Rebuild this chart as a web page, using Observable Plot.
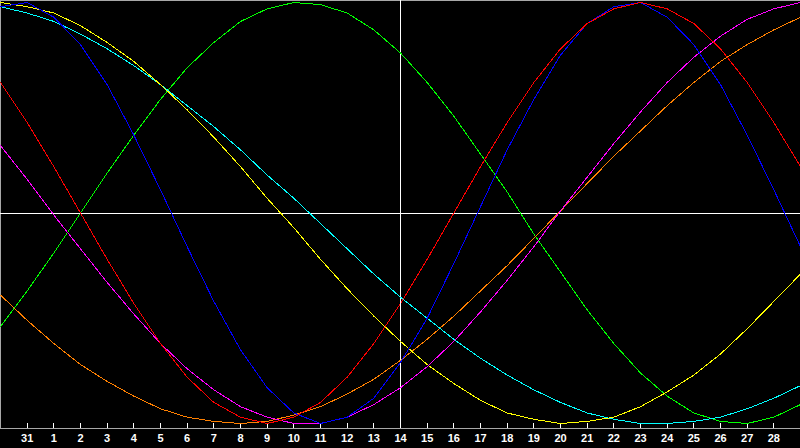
<!DOCTYPE html>
<html>
<head>
<meta charset="utf-8">
<script src="https://cdn.jsdelivr.net/npm/d3@7"></script>
<script src="https://cdn.jsdelivr.net/npm/@observablehq/plot@0.6"></script>
<style>
  html, body { margin: 0; padding: 0; background: #000; }
  #chart svg { display: block; }
</style>
</head>
<body>
<div id="chart"></div>
<script>
// day index across the chart (0 = left edge, 30 = right edge)
const dayIndex = [0,1,2,3,4,5,6,7,8,9,10,11,12,13,14,15,16,17,18,19,20,21,22,23,24,25,26,27,28,29,30];
// tick labels at day index 1..29
const tickIndex = [1,2,3,4,5,6,7,8,9,10,11,12,13,14,15,16,17,18,19,20,21,22,23,24,25,26,27,28,29];
const tickLabels = ["31","1","2","3","4","5","6","7","8","9","10","11","12","13","14","15","16","17","18","19","20","21","22","23","24","25","26","27","28"];

// series values in percent (-100..100), one per day
const physical     = [98,100,93,80,61,37,11,-16,-42,-65,-83,-95,-100,-97,-88,-71,-50,-24,3,30,54,75,90,98,100,93,80,61,37,11,-16];
const emotional    = [62,43,22,0,-22,-43,-62,-78,-90,-97,-100,-97,-90,-78,-62,-43,-22,0,22,43,62,78,90,97,100,97,90,78,62,43,22];
const intellectual = [-54,-37,-19,0,19,37,54,69,81,91,97,100,99,95,87,76,62,46,28,10,-10,-28,-46,-62,-76,-87,-95,-99,-100,-97,-91];
const intuitive    = [32,16,-1,-17,-33,-48,-62,-74,-84,-92,-97,-100,-100,-97,-91,-83,-73,-61,-47,-32,-16,1,17,33,48,62,74,84,92,97,100];
const aesthetic    = [100,98,95,89,81,72,61,49,36,22,7,-7,-22,-36,-49,-61,-72,-81,-89,-95,-98,-100,-99,-97,-92,-85,-77,-67,-55,-42,-29];
const awareness    = [-39,-51,-62,-72,-80,-87,-93,-97,-99,-100,-99,-96,-92,-86,-79,-70,-60,-49,-37,-25,-12,1,14,27,39,51,62,72,80,87,93];
const spiritual    = [98,95,91,85,78,70,61,51,41,30,18,7,-5,-17,-29,-40,-50,-60,-69,-77,-84,-90,-95,-98,-100,-100,-99,-97,-93,-88,-82];

const seriesNames  = ["intellectual","awareness","spiritual","aesthetic","intuitive","physical","emotional"];
const seriesValues = [intellectual, awareness, spiritual, aesthetic, intuitive, physical, emotional];
const seriesColors = ["#00ff00","#ff8000","#00ffff","#ffff00","#ff00ff","#0000ff","#ff0000"];

const rows = [];
seriesNames.forEach((name, s) => {
  dayIndex.forEach((d, i) => rows.push({series: name, day: d, value: seriesValues[s][i]}));
});

const chart = Plot.plot({
  width: 800,
  height: 448,
  marginTop: 0,
  marginBottom: 20,
  marginLeft: 0,
  marginRight: 0,
  style: {background: "#000", color: "#fff", overflow: "visible"},
  x: {domain: [0, 30], axis: null},
  y: {domain: [-100, 100], range: [423, 2], axis: null},
  color: {type: "ordinal", domain: seriesNames, range: seriesColors},
  marks: [
    Plot.frame({stroke: "#a8a8a8", shapeRendering: "crispEdges"}),
    Plot.ruleX([15], {stroke: "#fff", strokeWidth: 1, shapeRendering: "crispEdges"}),
    Plot.ruleY([0], {stroke: "#fff", strokeWidth: 1, shapeRendering: "crispEdges"}),
    Plot.tickX(tickIndex, {x: d => d, stroke: "#fff", insetTop: 423, shapeRendering: "crispEdges"}),
    Plot.axisX({
      ticks: tickIndex,
      tickFormat: d => tickLabels[tickIndex.indexOf(d)],
      tickSize: 0,
      tickPadding: 6,
      fontSize: 11,
      fontWeight: "bold",
      fontFamily: "Liberation Sans, Arial, sans-serif",
      fill: "#fff",
      label: null
    }),
    Plot.line(rows, {x: "day", y: "value", z: "series", stroke: "series", strokeWidth: 1, shapeRendering: "crispEdges"})
  ]
});
document.getElementById("chart").appendChild(chart);
</script>
</body>
</html>
